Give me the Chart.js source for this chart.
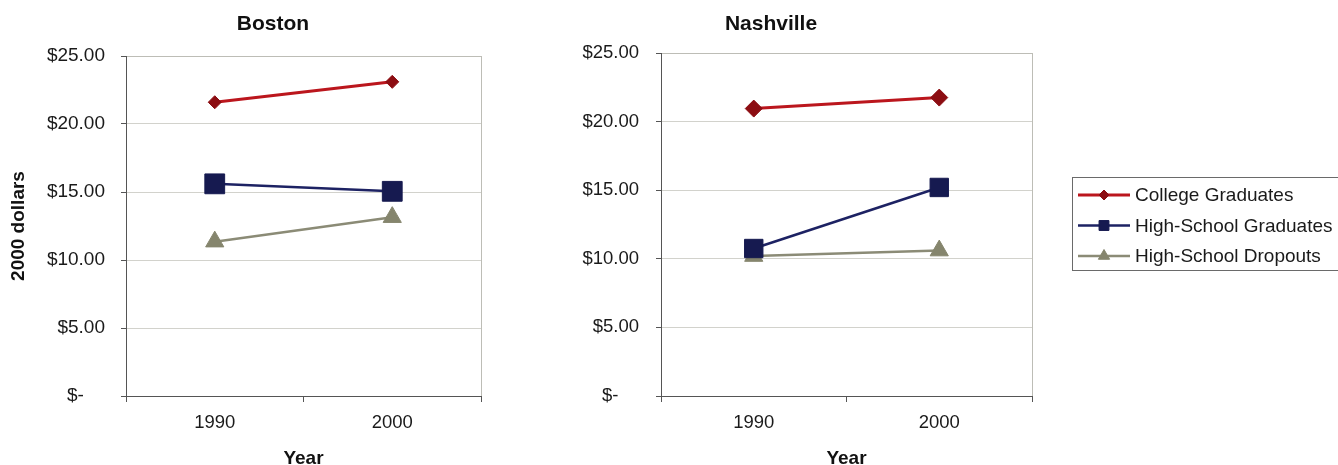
<!DOCTYPE html>
<html>
<head>
<meta charset="utf-8">
<script src="https://cdn.jsdelivr.net/npm/chart.js@4/dist/chart.umd.min.js"></script>
<style>
  body { margin: 0; background: #fff; }
  .panel { position: absolute; top: 0; }
</style>
</head>
<body>
<canvas id="boston" class="panel" width="520" height="465" style="left:0"></canvas>
<canvas id="nashville" class="panel" width="818" height="465" style="left:520px"></canvas>
<script>
// Hourly wages in 2000 dollars, by education group
const years = ['1990', '2000'];
const seriesNames = ['College Graduates', 'High-School Graduates', 'High-School Dropouts'];
const bostonCollege = [21.6, 23.1];
const bostonHighSchool = [15.6, 15.05];
const bostonDropouts = [11.35, 13.15];
const nashvilleCollege = [20.95, 21.75];
const nashvilleHighSchool = [10.75, 15.2];
const nashvilleDropouts = [10.2, 10.6];
const yTicks = [0, 5, 10, 15, 20, 25];

const FONT = "'Liberation Sans', Arial, sans-serif";
const AXIS = '#555555';
const GRID = '#d2d2cc';
const FRAME = '#bdbdb6';
const TEXT = '#1a1a1a';

const styles = [
  { line: '#bb161d', fill: '#8c0d12', pointStyle: 'rectRot', width: 3 },
  { line: '#1d2263', fill: '#161a50', pointStyle: 'rect', width: 2.5 },
  { line: '#8b8b76', fill: '#85856d', pointStyle: 'triangle', width: 2.5 },
];

function buildDatasets(values, radii) {
  return values.map((data, i) => ({
    label: seriesNames[i],
    data,
    borderColor: styles[i].line,
    borderWidth: styles[i].width,
    backgroundColor: styles[i].fill,
    pointStyle: styles[i].pointStyle,
    pointRadius: radii[i],
    pointBackgroundColor: styles[i].fill,
    pointBorderColor: styles[i].fill,
    pointBorderWidth: 1,
    tension: 0,
  }));
}

// City name above each panel
const panelTitle = {
  id: 'panelTitle',
  afterDraw(chart, args, opts) {
    const { ctx } = chart;
    ctx.save();
    ctx.font = `bold ${opts.size}px ${FONT}`;
    ctx.fillStyle = '#111';
    ctx.textAlign = 'center';
    ctx.textBaseline = 'middle';
    ctx.fillText(opts.text, opts.x, opts.y);
    ctx.restore();
  },
};

// Right-hand frame of the plot area
const plotFrame = {
  id: 'plotFrame',
  beforeDatasetsDraw(chart) {
    const { ctx, chartArea: a } = chart;
    ctx.save();
    ctx.strokeStyle = FRAME;
    ctx.lineWidth = 1;
    ctx.beginPath();
    ctx.moveTo(Math.round(a.right) + 0.5, a.top);
    ctx.lineTo(Math.round(a.right) + 0.5, a.bottom);
    ctx.stroke();
    ctx.restore();
  },
};

// Boxed legend with a line sample through each marker
const lineLegend = {
  id: 'lineLegend',
  afterDraw(chart, args, opts) {
    if (!opts.display) return;
    const { ctx } = chart;
    ctx.save();
    ctx.strokeStyle = '#6a6a6a';
    ctx.lineWidth = 1;
    ctx.strokeRect(opts.left + 0.5, opts.top + 0.5, opts.width, opts.height);
    ctx.font = `${opts.size}px ${FONT}`;
    ctx.textBaseline = 'middle';
    ctx.textAlign = 'left';
    chart.data.datasets.forEach((ds, i) => {
      const y = opts.firstRow + i * opts.rowGap;
      ctx.strokeStyle = ds.borderColor;
      ctx.lineWidth = ds.borderWidth;
      ctx.beginPath();
      ctx.moveTo(opts.left + 6, y);
      ctx.lineTo(opts.left + 58, y);
      ctx.stroke();
      ctx.fillStyle = ds.pointBackgroundColor;
      ctx.strokeStyle = ds.pointBorderColor;
      ctx.lineWidth = 1;
      Chart.helpers.drawPoint(ctx, {
        pointStyle: ds.pointStyle,
        radius: opts.markerRadius[i],
        borderWidth: 1,
        rotation: 0,
      }, opts.left + 32, y);
      ctx.fillStyle = TEXT;
      ctx.fillText(ds.label, opts.left + 63, y + 1);
    });
    ctx.restore();
  },
};

function buildOptions(cfg) {
  return {
    responsive: false,
    animation: false,
    devicePixelRatio: 1,
    layout: { padding: { left: 0, right: cfg.padRight, top: cfg.padTop, bottom: 0 } },
    plugins: {
      legend: { display: false },
      tooltip: { enabled: false },
      panelTitle: cfg.title,
      lineLegend: cfg.legend || { display: false },
    },
    scales: {
      x: {
        offset: true,
        grid: {
          offset: true,
          drawOnChartArea: false,
          tickColor: AXIS,
          tickLength: 6,
        },
        border: { color: AXIS, width: 1 },
        ticks: {
          color: TEXT,
          font: { family: FONT, size: 18.5 },
          padding: 10,
          maxRotation: 0,
          autoSkip: false,
        },
        title: {
          display: true,
          text: 'Year',
          color: '#111',
          font: { family: FONT, size: 19, weight: 'bold', lineHeight: 0.7 },
          padding: 0,
        },
        afterFit: s => { s.height = 69; },
      },
      y: {
        min: yTicks[0],
        max: yTicks[yTicks.length - 1],
        grid: {
          color: c => (c.tick && c.tick.value === 0 ? AXIS : (c.tick && c.tick.value === yTicks[yTicks.length - 1] ? FRAME : GRID)),
          tickColor: AXIS,
          tickLength: 5,
        },
        border: { color: AXIS, width: 1 },
        ticks: {
          stepSize: yTicks[1] - yTicks[0],
          color: TEXT,
          font: { family: FONT, size: cfg.yFont },
          padding: cfg.yPad,
          callback: v => (v === 0 ? '$-    ' : '$' + v.toFixed(2)),
        },
        title: {
          display: cfg.yTitle,
          text: '2000 dollars',
          color: '#111',
          font: { family: FONT, size: 19, weight: 'bold' },
          padding: { top: 7, bottom: 0 },
        },
        afterFit: s => { s.width = cfg.yWidth; },
      },
    },
  };
}

new Chart(document.getElementById('boston'), {
  type: 'line',
  data: {
    labels: years,
    datasets: buildDatasets([bostonCollege, bostonHighSchool, bostonDropouts], [6.5, 14, 10.5]),
  },
  options: buildOptions({
    padRight: 39, padTop: 56, yWidth: 126, yPad: 16, yFont: 19, yTitle: true,
    title: { text: 'Boston', x: 273, y: 24, size: 21 },
  }),
  plugins: [plotFrame, panelTitle],
});

new Chart(document.getElementById('nashville'), {
  type: 'line',
  data: {
    labels: years,
    datasets: buildDatasets([nashvilleCollege, nashvilleHighSchool, nashvilleDropouts], [8.5, 13, 10.5]),
  },
  options: buildOptions({
    padRight: 306, padTop: 53, yWidth: 141, yPad: 17, yFont: 18.5, yTitle: false,
    title: { text: 'Nashville', x: 251, y: 24, size: 21 },
    legend: {
      display: true, left: 552, top: 177, width: 320, height: 93,
      firstRow: 195, rowGap: 30.5, size: 19, markerRadius: [5, 7, 6.5],
    },
  }),
  plugins: [plotFrame, panelTitle, lineLegend],
});
</script>
</body>
</html>
